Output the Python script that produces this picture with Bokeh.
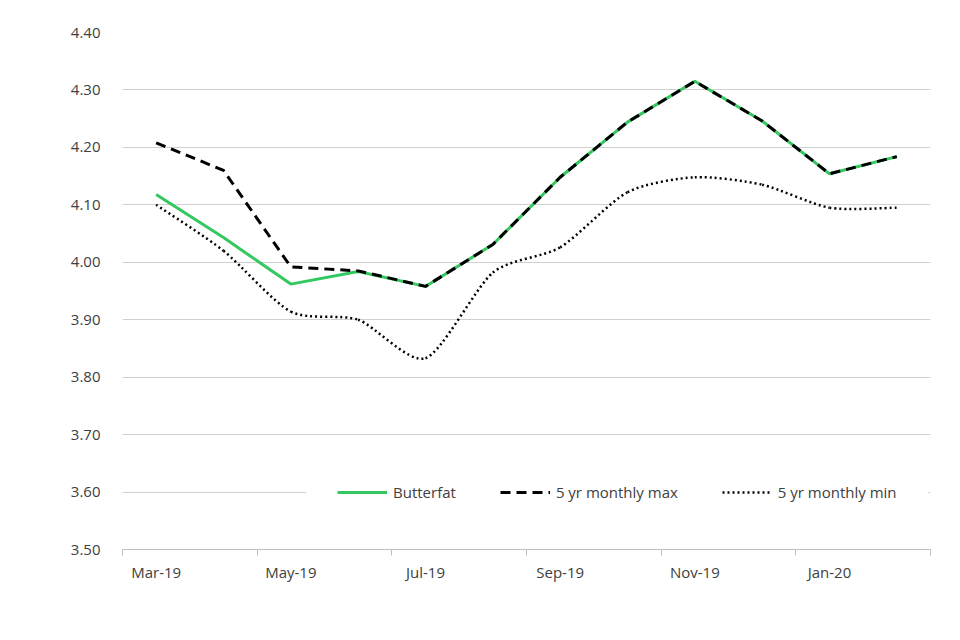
from bokeh.plotting import figure
from bokeh.models import FixedTicker, Legend, LegendItem, Range1d, PrintfTickFormatter
from bokeh.embed import file_html
from bokeh.resources import INLINE

months = ["Mar-19", "Apr-19", "May-19", "Jun-19", "Jul-19", "Aug-19",
          "Sep-19", "Oct-19", "Nov-19", "Dec-19", "Jan-20", "Feb-20"]
butterfat = [4.118, 4.043, 3.962, 3.984, 3.958, 4.031, 4.148, 4.244, 4.315, 4.246, 4.154, 4.184]
max5 = [4.208, 4.160, 3.992, 3.985, 3.958, 4.031, 4.148, 4.244, 4.315, 4.246, 4.154, 4.184]
min5 = [4.100, 4.020, 3.914, 3.900, 3.833, 3.982, 4.026, 4.122, 4.148, 4.135, 4.095, 4.095]
y_ticks = [3.50, 3.60, 3.70, 3.80, 3.90, 4.00, 4.10, 4.20, 4.30, 4.40]

FONT = "Open Sans"
TXT = "#404040"

n = len(months)
x = [i + 0.5 for i in range(n)]

p = figure(width=950, height=628, output_backend="svg", toolbar_location=None,
           x_range=Range1d(0, n), y_range=Range1d(y_ticks[0], y_ticks[-1]),
           min_border_left=122, min_border_right=20, min_border_top=32, min_border_bottom=79)
p.outline_line_color = None
p.background_fill_color = "white"
p.border_fill_color = "white"

# axes
p.yaxis.ticker = FixedTicker(ticks=y_ticks)
p.yaxis.formatter = PrintfTickFormatter(format="%.2f")
p.yaxis.axis_line_color = None
p.yaxis.major_tick_line_color = None
p.yaxis.minor_tick_line_color = None
p.yaxis.major_label_standoff = 16
p.yaxis.major_label_text_font = FONT
p.yaxis.major_label_text_font_size = "15px"
p.yaxis.major_label_text_color = TXT

label_pos = x[::2]
p.xaxis.ticker = FixedTicker(ticks=label_pos, minor_ticks=[float(v) for v in range(0, n + 1, 2)])
p.xaxis.major_label_overrides = {pos: m for pos, m in zip(label_pos, months[::2])}
p.xaxis.axis_line_color = "#bfbfbf"
p.xaxis.major_tick_line_color = None
p.xaxis.minor_tick_line_color = "#bfbfbf"
p.xaxis.minor_tick_in = 0
p.xaxis.minor_tick_out = 6
p.xaxis.major_label_standoff = 6
p.xaxis.major_label_text_font = FONT
p.xaxis.major_label_text_font_size = "15px"
p.xaxis.major_label_text_color = TXT

p.xgrid.grid_line_color = None
p.ygrid.grid_line_color = "#d0d0d0"
p.ygrid.grid_line_width = 1

# series
r_bf = p.line(x, butterfat, line_color="#33c860", line_width=3)
r_max = p.line(x, max5, line_color="black", line_width=3, line_dash="10 6")

# smoothed min line (Excel-style smoothing drawn as bezier segments from the data)
def ctrl(i):
    return min(max(i, 0), n - 1)

K = 8.0
x0, y0, x1, y1, cx0, cy0, cx1, cy1 = [], [], [], [], [], [], [], []
for i in range(n - 1):
    a, b = ctrl(i - 1), ctrl(i + 2)
    x0.append(x[i]); y0.append(min5[i]); x1.append(x[i + 1]); y1.append(min5[i + 1])
    cx0.append(x[i] + (x[i + 1] - x[a]) / K); cy0.append(min5[i] + (min5[i + 1] - min5[a]) / K)
    cx1.append(x[i + 1] - (x[b] - x[i]) / K); cy1.append(min5[i + 1] - (min5[b] - min5[i]) / K)
r_min = p.bezier(x0=x0, y0=y0, x1=x1, y1=y1, cx0=cx0, cy0=cy0, cx1=cx1, cy1=cy1,
                 line_color="black", line_width=2.5, line_dash="2 3")

legend = Legend(items=[LegendItem(label="Butterfat", renderers=[r_bf]),
                       LegendItem(label="5 yr monthly max", renderers=[r_max]),
                       LegendItem(label="5 yr monthly min", renderers=[r_min])],
                orientation="horizontal", location=(184, 16),
                padding=30, spacing=44, glyph_width=50, label_standoff=6,
                border_line_color="white", background_fill_color="white", background_fill_alpha=1,
                label_text_font=FONT, label_text_font_size="15px", label_text_color=TXT)
p.add_layout(legend, "center")

open("out.html", "w").write(file_html(p, INLINE))
